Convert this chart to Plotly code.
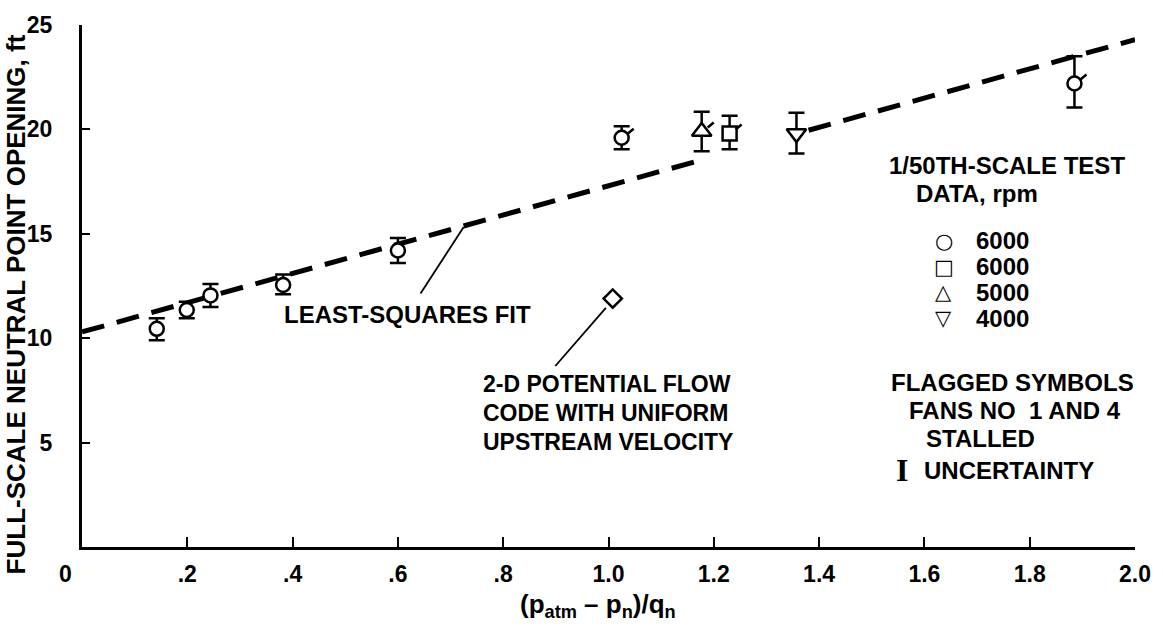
import plotly.graph_objects as go

# 1/50th-scale test data: neutral point opening (ft) against (p_atm - p_n)/q_n
circle_x = [0.142, 0.199, 0.244, 0.382, 0.600, 1.025, 1.885]
circle_y = [10.45, 11.35, 12.05, 12.55, 14.20, 19.60, 22.20]
circle_up = [0.50, 0.40, 0.55, 0.50, 0.60, 0.55, 1.30]
circle_dn = [0.55, 0.40, 0.55, 0.45, 0.60, 0.55, 1.15]
circle_flag = [False, False, False, False, False, True, True]

square_x = [1.230]
square_y = [19.80]
square_up = [0.85]
square_dn = [0.75]
square_flag = [True]

tri_up_x = [1.177]
tri_up_y = [19.90]
tri_up_up = [0.95]
tri_up_dn = [0.95]
tri_up_flag = [True]

tri_dn_x = [1.357]
tri_dn_y = [19.80]
tri_dn_up = [1.00]
tri_dn_dn = [0.95]
tri_dn_flag = [False]

# 2-D potential flow result
potential_x = [1.008]
potential_y = [11.90]

# least-squares fit, broken where it passes the symbols
fit_x = [0.0, 1.17, None, 1.38, 2.0]
fit_y = [10.3, 18.49, None, 19.96, 24.3]

x_tick_vals = [0.2, 0.4, 0.6, 0.8, 1.0, 1.2, 1.4, 1.6, 1.8, 2.0]
x_tick_text = [".2", ".4", ".6", ".8", "1.0", "1.2", "1.4", "1.6", "1.8", "2.0"]
y_tick_vals = [5, 10, 15, 20, 25]
y_tick_text = ["5", "10", "15", "20", "25"]

W, H = 1163, 628
ML, MR, MT, MB = 82, 24, 22, 81
PW, PH = W - ML - MR, H - MT - MB

TXT = "Liberation Sans"
INK = "black"


def px(xp):
    return (xp - ML) / PW


def py(yp):
    return (H - MB - yp) / PH


fig = go.Figure()

fig.add_trace(go.Scatter(
    x=fit_x, y=fit_y, mode="lines", connectgaps=False,
    line=dict(color=INK, width=5, dash="23px,13px"),
    showlegend=False, hoverinfo="skip"))


def data_trace(xs, ys, up, dn, symbol, size, name):
    return go.Scatter(
        x=xs, y=ys, mode="markers", name=name,
        marker=dict(symbol=symbol, size=size, color="white",
                    line=dict(color=INK, width=2.5)),
        error_y=dict(type="data", symmetric=False, array=up, arrayminus=dn,
                     color=INK, thickness=2.5, width=8),
        showlegend=False)


fig.add_trace(data_trace(circle_x, circle_y, circle_up, circle_dn, "circle", 14, "6000"))
fig.add_trace(data_trace(square_x, square_y, square_up, square_dn, "square", 14, "6000"))
fig.add_trace(data_trace(tri_up_x, tri_up_y, tri_up_up, tri_up_dn, "triangle-up", 17, "5000"))
fig.add_trace(data_trace(tri_dn_x, tri_dn_y, tri_dn_up, tri_dn_dn, "triangle-down", 17, "4000"))

fig.add_trace(go.Scatter(
    x=potential_x, y=potential_y, mode="markers",
    marker=dict(symbol="diamond", size=14, color="white",
                line=dict(color=INK, width=2.5)),
    showlegend=False))

# flags on the symbols for runs with fans 1 and 4 stalled
shapes = []
for xs, ys, flags in [(circle_x, circle_y, circle_flag),
                      (square_x, square_y, square_flag),
                      (tri_up_x, tri_up_y, tri_up_flag),
                      (tri_dn_x, tri_dn_y, tri_dn_flag)]:
    for xv, yv, f in zip(xs, ys, flags):
        if f:
            shapes.append(dict(
                type="line", xref="x", yref="y",
                xsizemode="pixel", ysizemode="pixel",
                xanchor=xv, yanchor=yv, x0=6, y0=4, x1=12, y1=9,
                line=dict(color=INK, width=2.5)))

# leader lines
shapes.append(dict(type="line", xref="x", yref="y", x0=0.643, y0=12.14,
                   x1=0.725, y1=15.33, line=dict(color=INK, width=1.8)))
shapes.append(dict(type="line", xref="x", yref="y", x0=0.899, y0=8.67,
                   x1=0.995, y1=11.45, line=dict(color=INK, width=1.8)))

annotations = []


def note(text, xp, yp, size=24, family=TXT, anchor="left", weight="bold"):
    annotations.append(dict(
        text=text, xref="paper", yref="paper", x=px(xp), y=py(yp),
        xanchor=anchor, yanchor="middle", showarrow=False,
        font=dict(family=family, size=size, color=INK, weight=weight)))


note("LEAST-SQUARES FIT", 283, 313)
note("2-D POTENTIAL FLOW", 483, 383, size=23)
note("CODE WITH UNIFORM", 483, 412, size=23)
note("UPSTREAM VELOCITY", 483, 441, size=23)

note("1/50TH-SCALE TEST", 890, 163)
note("DATA, rpm", 917, 191)
legend_rows = [("\u25CB", "6000"), ("\u25A1", "6000"), ("\u25B3", "5000"), ("\u25BD", "4000")]
for i, (glyph, label) in enumerate(legend_rows):
    yrow = 239 + 26 * i
    note(glyph, 947, yrow, size=21, family="DejaVu Sans", anchor="center")
    note(label, 977, yrow)
note("FLAGGED SYMBOLS", 892, 382)
note("FANS NO  1 AND 4", 910, 410)
note("STALLED", 927, 438)
note("I", 905, 470, size=32, family="Liberation Serif", anchor="center")
note("UNCERTAINTY", 925, 470)

# axis titles and origin label
annotations.append(dict(
    text="FULL-SCALE NEUTRAL POINT OPENING, ft", textangle=-90,
    xref="paper", yref="paper", x=0, y=py(303), xshift=16 - ML,
    xanchor="center", yanchor="middle", showarrow=False,
    font=dict(family=TXT, size=26, color=INK, weight="bold")))
annotations.append(dict(
    text="(p<sub>atm</sub> \u2013 p<sub>n</sub>)/q<sub>n</sub>",
    xref="paper", yref="paper", x=px(600), y=py(606),
    xanchor="center", yanchor="middle", showarrow=False,
    font=dict(family=TXT, size=26, color=INK, weight="bold")))
annotations.append(dict(
    text="0", xref="paper", yref="paper", x=px(65), y=py(574),
    xanchor="center", yanchor="middle", showarrow=False,
    font=dict(family=TXT, size=23, color=INK, weight="bold")))

tick_font = dict(family=TXT, size=23, color=INK, weight="bold")

fig.update_layout(
    width=W, height=H, autosize=False,
    margin=dict(l=ML, r=MR, t=MT, b=MB, pad=0),
    paper_bgcolor="white", plot_bgcolor="white",
    shapes=shapes, annotations=annotations, showlegend=False,
    xaxis=dict(range=[0, 2.0], showline=True, linewidth=3, linecolor=INK,
               ticks="inside", ticklen=10, tickwidth=2, tickcolor=INK,
               tickvals=x_tick_vals, ticktext=x_tick_text, tickfont=tick_font,
               showgrid=False, zeroline=False, ticklabelstandoff=4),
    yaxis=dict(range=[0, 25], showline=True, linewidth=3, linecolor=INK,
               ticks="inside", ticklen=8, tickwidth=2, tickcolor=INK,
               tickvals=y_tick_vals, ticktext=y_tick_text, tickfont=tick_font,
               showgrid=False, zeroline=False, ticklabelstandoff=22),
)

fig.write_html("out.html")
